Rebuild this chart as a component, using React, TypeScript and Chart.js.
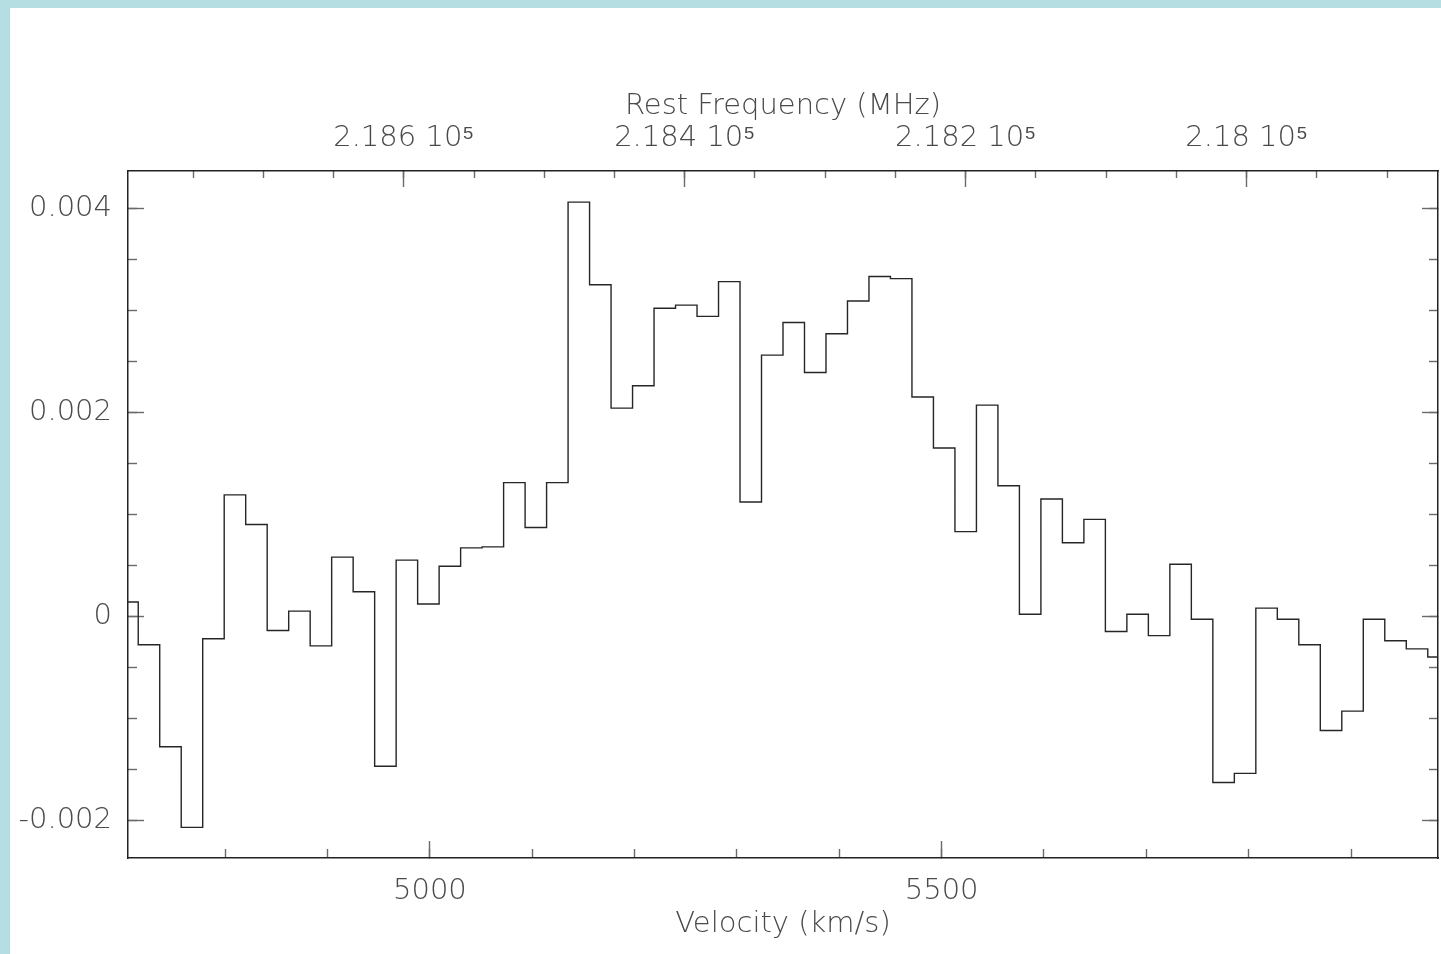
import React, { useEffect, useRef } from 'react';
import { Chart, registerables } from 'chart.js';

Chart.register(...registerables);

// Bin centres of the spectrum (km/s)
const VELOCITY = [
  4704.5, 4725.5, 4746.5, 4767.5, 4788.5, 4809.5, 4830.5, 4851.5, 4872.5, 4893.5,
  4914.5, 4935.5, 4956.5, 4977.5, 4998.5, 5019.5, 5040.5, 5061.5, 5082.5, 5103.5,
  5124.5, 5145.5, 5166.5, 5187.5, 5208.5, 5229.5, 5250.5, 5271.5, 5292.5, 5313.5,
  5334.5, 5355.5, 5376.5, 5397.5, 5418.5, 5439.5, 5460.5, 5481.5, 5502.5, 5523.5,
  5544.5, 5565.5, 5586.5, 5607.5, 5628.5, 5649.5, 5670.5, 5691.5, 5712.5, 5733.5,
  5754.5, 5775.5, 5796.5, 5817.5, 5838.5, 5859.5, 5880.5, 5901.5, 5922.5, 5943.5,
  5964.5, 5985.5,
];

// Flux per bin
const FLUX = [
  0.00014, -0.00028, -0.00128, -0.00207, -0.00022, 0.00119, 0.0009, -0.00014, 0.00005, -0.00029,
  0.00058, 0.00024, -0.00147, 0.00055, 0.00012, 0.00049, 0.00067, 0.00068, 0.00131, 0.00087,
  0.00131, 0.00406, 0.00325, 0.00204, 0.00226, 0.00302, 0.00305, 0.00294, 0.00328, 0.00112,
  0.00256, 0.00288, 0.00239, 0.00277, 0.00309, 0.00333, 0.00331, 0.00215, 0.00165, 0.00083,
  0.00207, 0.00128, 0.00002, 0.00115, 0.00072, 0.00095, -0.00015, 0.00002, -0.00019, 0.00051,
  -0.00003, -0.00163, -0.00154, 0.00008, -0.00003, -0.00028, -0.00112, -0.00093, -0.00003, -0.00024,
  -0.00032, -0.0004,
];

const VEL_RANGE = [4705, 5985];
const FREQ_RANGE = [217863.8, 218796.3];
const FLUX_RANGE = [-0.00237, 0.004365];

const VEL_MAJOR_TICKS = [5000, 5500];
const VEL_MINOR_TICKS = [4800, 4900, 5000, 5100, 5200, 5300, 5400, 5500, 5600, 5700, 5800, 5900];

const FREQ_MAJOR_TICKS = [218000, 218200, 218400, 218600];
const FREQ_TICK_LABELS = ['2.18 10⁵', '2.182 10⁵', '2.184 10⁵', '2.186 10⁵'];
const FREQ_MINOR_TICKS = [
  217900, 217950, 218000, 218050, 218100, 218150, 218200, 218250, 218300,
  218350, 218400, 218450, 218500, 218550, 218600, 218650, 218700, 218750,
];

const FLUX_MAJOR_TICKS = [-0.002, 0, 0.002, 0.004];
const FLUX_TICK_LABELS = ['-0.002', '0', '0.002', '0.004'];
const FLUX_MINOR_TICKS = [
  -0.002, -0.0015, -0.001, -0.0005, 0, 0.0005, 0.001, 0.0015, 0.002, 0.0025, 0.003, 0.0035, 0.004,
];

const X_TITLE = 'Velocity (km/s)';
const TOP_TITLE = 'Rest Frequency (MHz)';

const W = 1441;
const H = 954;

export default function App() {
  const ref = useRef<HTMLCanvasElement | null>(null);

  useEffect(() => {
    if (!ref.current) return;
    const FONT = { family: "'DejaVu Sans', sans-serif", size: 29, weight: 300 as any };
    const TEXT = '#4a4a4a';
    const TICK = '#6a6a6a';
    const FRAME = '#222';
    const setTicks = (vals: number[]) => (a: any) => {
      a.ticks = vals.map((v) => ({ value: v }));
    };
    const minorGrid = (len: number) => ({
      drawOnChartArea: false,
      tickLength: len,
      tickColor: TICK,
      tickWidth: 1.4,
    });

    const chart = new Chart(ref.current, {
      type: 'line',
      data: {
        datasets: [
          {
            data: VELOCITY.map((v, i) => ({ x: v, y: FLUX[i] })),
            stepped: 'middle',
            borderColor: '#262626',
            borderWidth: 1.4,
            pointRadius: 0,
            fill: false,
            xAxisID: 'x',
            yAxisID: 'y',
          } as any,
        ],
      },
      options: {
        responsive: false,
        animation: false,
        layout: { padding: 0 },
        plugins: { legend: { display: false }, tooltip: { enabled: false } },
        events: [],
        scales: {
          x: {
            type: 'linear',
            position: 'bottom',
            min: VEL_RANGE[0],
            max: VEL_RANGE[1],
            afterBuildTicks: setTicks(VEL_MAJOR_TICKS),
            afterFit: (a: any) => { a.height = H - 858; },
            grid: { drawOnChartArea: false, tickLength: -17, tickColor: TICK, tickWidth: 1.4 },
            border: { display: true, color: FRAME, width: 1.5 },
            ticks: {
              autoSkip: false, maxRotation: 0, padding: 32.6, font: FONT, color: TEXT,
              callback: (v: any) => String(v),
            },
            title: { display: true, text: X_TITLE, font: FONT, color: TEXT, padding: { top: 0, bottom: 12 } },
          },
          xTop: {
            axis: 'x',
            type: 'linear',
            position: 'top',
            reverse: true,
            min: FREQ_RANGE[0],
            max: FREQ_RANGE[1],
            afterBuildTicks: setTicks(FREQ_MAJOR_TICKS),
            afterFit: (a: any) => { a.height = 171; },
            grid: { drawOnChartArea: false, tickLength: -16, tickColor: TICK, tickWidth: 1.4 },
            border: { display: true, color: FRAME, width: 1.5 },
            ticks: {
              autoSkip: false, maxRotation: 0, padding: 30.8, font: FONT, color: TEXT,
              callback: (v: any) => FREQ_TICK_LABELS[FREQ_MAJOR_TICKS.indexOf(Number(v))],
            },
            title: { display: true, text: TOP_TITLE, font: FONT, color: TEXT, padding: { top: 88.6, bottom: 0 } },
          },
          y: {
            type: 'linear',
            position: 'left',
            min: FLUX_RANGE[0],
            max: FLUX_RANGE[1],
            afterBuildTicks: setTicks(FLUX_MAJOR_TICKS),
            afterFit: (a: any) => { a.width = 128; },
            grid: { drawOnChartArea: false, tickLength: -16, tickColor: TICK, tickWidth: 1.4 },
            border: { display: true, color: FRAME, width: 1.5 },
            ticks: {
              autoSkip: false, padding: 32, font: FONT, color: TEXT,
              callback: (v: any) => FLUX_TICK_LABELS[FLUX_MAJOR_TICKS.indexOf(Number(v))],
            },
          },
          yRight: {
            axis: 'y',
            type: 'linear',
            position: 'right',
            min: FLUX_RANGE[0],
            max: FLUX_RANGE[1],
            afterBuildTicks: setTicks(FLUX_MAJOR_TICKS),
            afterFit: (a: any) => { a.width = W - 1438; },
            grid: { drawOnChartArea: false, tickLength: -16, tickColor: TICK, tickWidth: 1.4 },
            border: { display: true, color: FRAME, width: 1.5 },
            ticks: { display: false },
          },
          xMinorB: {
            axis: 'x',
            type: 'linear',
            position: { y: FLUX_RANGE[0] } as any,
            min: VEL_RANGE[0],
            max: VEL_RANGE[1],
            afterBuildTicks: setTicks(VEL_MINOR_TICKS),
            grid: minorGrid(-9),
            border: { display: false },
            ticks: { display: false },
          },
          xMinorT: {
            axis: 'x',
            type: 'linear',
            position: { y: FLUX_RANGE[1] } as any,
            reverse: true,
            min: FREQ_RANGE[0],
            max: FREQ_RANGE[1],
            afterBuildTicks: setTicks(FREQ_MINOR_TICKS),
            grid: minorGrid(7),
            border: { display: false },
            ticks: { display: false },
          },
          yMinorL: {
            axis: 'y',
            type: 'linear',
            position: { x: VEL_RANGE[0] } as any,
            min: FLUX_RANGE[0],
            max: FLUX_RANGE[1],
            afterBuildTicks: setTicks(FLUX_MINOR_TICKS),
            grid: minorGrid(-9),
            border: { display: false },
            ticks: { display: false },
          },
          yMinorR: {
            axis: 'y',
            type: 'linear',
            position: { x: VEL_RANGE[1] } as any,
            min: FLUX_RANGE[0],
            max: FLUX_RANGE[1],
            afterBuildTicks: setTicks(FLUX_MINOR_TICKS),
            grid: minorGrid(9),
            border: { display: false },
            ticks: { display: false },
          },
        } as any,
      },
    });
    return () => chart.destroy();
  }, []);

  return (
    <div style={{ position: 'fixed', left: 0, top: 0, width: W, height: H, background: '#b4dee1' }}>
      <div style={{ position: 'absolute', left: 10, top: 8, right: 0, bottom: 0, background: '#ffffff' }} />
      <canvas
        ref={ref}
        width={W}
        height={H}
        style={{ position: 'absolute', left: 0, top: 0, width: W, height: H }}
      />
    </div>
  );
}
